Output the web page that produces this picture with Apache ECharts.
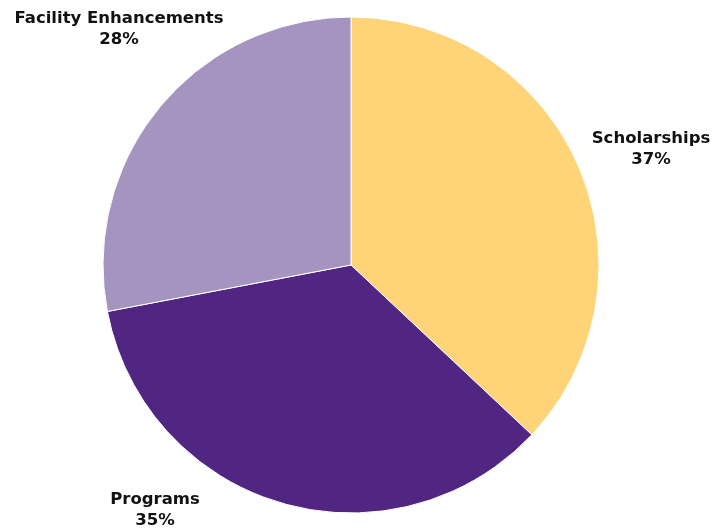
<!DOCTYPE html>
<html>
<head>
<meta charset="utf-8">
<script src="https://cdn.jsdelivr.net/npm/echarts@6/dist/echarts.min.js"></script>
<style>
html,body{margin:0;padding:0;background:#fff;}
#chart{width:728px;height:531px;}
</style>
</head>
<body>
<div id="chart"></div>
<script>
// Data
const categories = ['Scholarships', 'Programs', 'Facility Enhancements'];
const shares = [37, 35, 28];

// Styles (not data)
const colors = ['#FFD479', '#512582', '#A593C0'];
const labelCenters = { // label block centres in px
  'Scholarships': [651, 149],
  'Programs': [155, 510],
  'Facility Enhancements': [119, 29]
};

const chart = echarts.init(document.getElementById('chart'));
chart.setOption({
  animation: false,
  series: [{
    type: 'pie',
    center: [351, 265],
    radius: 248,
    startAngle: 90,
    clockwise: true,
    avoidLabelOverlap: false,
    data: categories.map((c, i) => ({ name: c, value: shares[i], itemStyle: { color: colors[i] } })),
    itemStyle: { borderColor: '#ffffff', borderWidth: 1 },
    label: {
      show: true,
      position: 'outside',
      formatter: p => p.name + '\n' + p.value + '%',
      fontFamily: 'DejaVu Sans',
      fontWeight: 'bold',
      fontSize: 16.5,
      lineHeight: 21,
      color: '#111111',
      align: 'center'
    },
    labelLine: { show: false },
    labelLayout: function (params) {
      const name = categories[params.dataIndex];
      const pos = labelCenters[name];
      return { x: pos[0], y: pos[1], align: 'center', verticalAlign: 'middle' };
    },
    emphasis: { disabled: true }
  }]
});
</script>
</body>
</html>
